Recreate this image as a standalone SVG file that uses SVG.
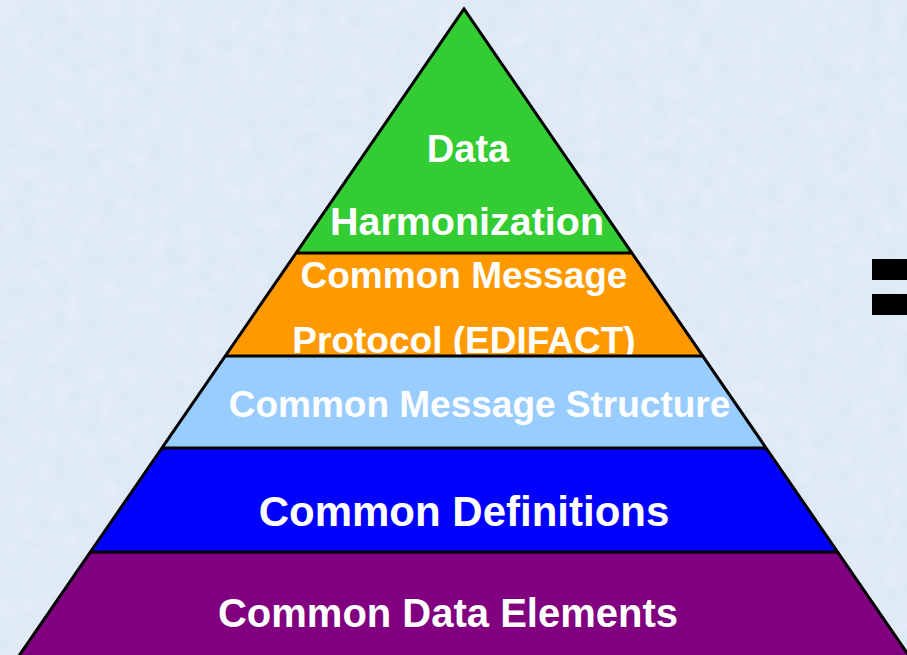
<svg xmlns="http://www.w3.org/2000/svg" width="907" height="655" viewBox="0 0 907 655">
  <defs>
    <filter id="tex" x="0" y="0" width="100%" height="100%">
      <feTurbulence type="fractalNoise" baseFrequency="0.06" numOctaves="3" seed="4" result="n"/>
      <feColorMatrix in="n" type="matrix" values="0 0 0 0 0.86  0 0 0 0 0.91  0 0 0 0 0.97  0 0 0 -1.4 0.9" result="c"/>
      <feComposite in="c" in2="SourceGraphic" operator="in"/>
    </filter>
    <style>
      .lbl { font-family: "Liberation Sans", Arial, sans-serif; font-weight: bold; fill: #ffffff; text-anchor: middle; }
      .edge { stroke: #000000; stroke-width: 3; fill: none; stroke-linejoin: miter; }
    </style>
  </defs>
  <rect x="0" y="0" width="907" height="655" fill="#dde9f5"/>
  <rect x="0" y="0" width="907" height="655" fill="#ffffff" filter="url(#tex)" opacity="0.6"/>

  <g id="layer-data-harmonization">
    <polygon points="464,9 631.9,253 296.1,253" fill="#33cc33"/>
    <text class="lbl" x="468" y="162" font-size="38">Data</text>
    <text class="lbl" x="467" y="235" font-size="38" textLength="274" lengthAdjust="spacingAndGlyphs">Harmonization</text>
  </g>
  <g id="layer-common-message-protocol">
    <polygon points="296.1,253 631.9,253 702.7,356 225.3,356" fill="#ff9900"/>
    <text class="lbl" x="464" y="288" font-size="37">Common Message</text>
    <text class="lbl" x="464" y="353" font-size="37">Protocol (EDIFACT)</text>
  </g>
  <g id="layer-common-message-structure">
    <polygon points="225.3,356 702.7,356 766,448 162,448" fill="#99ccff"/>
    <text class="lbl" x="479.5" y="417" font-size="37">Common Message Structure</text>
  </g>
  <g id="layer-common-definitions">
    <polygon points="162,448 766,448 837.6,552 90.4,552" fill="#0000ff"/>
    <text class="lbl" x="464" y="526" font-size="42">Common Definitions</text>
  </g>
  <g id="layer-common-data-elements">
    <polygon points="90.4,552 837.6,552 918.8,670 9.2,670" fill="#800080"/>
    <text class="lbl" x="448" y="627" font-size="40">Common Data Elements</text>
  </g>

  <g id="connectors">
    <line class="edge" x1="296.1" y1="253" x2="631.9" y2="253"/>
    <line class="edge" x1="225.3" y1="356" x2="702.7" y2="356"/>
    <line class="edge" x1="162" y1="448" x2="766" y2="448"/>
    <line class="edge" x1="90.4" y1="552" x2="837.6" y2="552"/>
    <polyline class="edge" points="9.2,670 464,9 918.8,670"/>
  </g>

  <g id="equals-sign">
    <rect x="872" y="259" width="40" height="21" fill="#000000"/>
    <rect x="872" y="294" width="40" height="21" fill="#000000"/>
  </g>
</svg>
